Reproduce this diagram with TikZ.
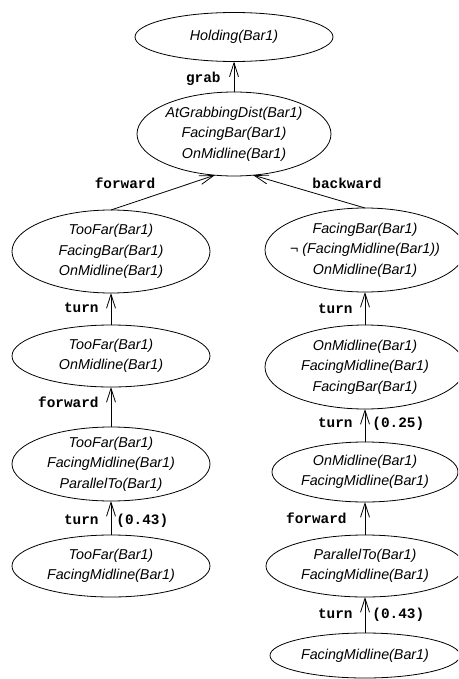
\documentclass[tikz,border=0pt]{standalone}
\usepackage{fontspec}
\setmainfont{Liberation Sans}
\newfontfamily\actfont{Liberation Mono}
\usetikzlibrary{shapes.geometric,arrows.meta}
\tikzset{
  state/.style={ellipse, draw, line width=0.8pt, inner sep=0pt, outer sep=0pt},
  stxt/.style={align=center, inner sep=0pt,
    font=\fontsize{14.3}{20.5}\selectfont\itshape},
  act/.style={inner sep=0pt, text height=8pt, text depth=2pt,
    font=\actfont\bfseries\fontsize{14.4}{16}\selectfont},
  arr/.style={line width=0.8pt, -{Straight Barb[length=14pt,width=9pt]}},
}
\begin{document}
\begin{tikzpicture}[x=1pt,y=-1pt]
\useasboundingbox (0,0) rectangle (458,679);
\clip (0,0) rectangle (458,679);

% goal and the state just before it
\node[state, minimum width=198pt, minimum height=49pt,
  label={[stxt]center:Holding(Bar1)}] (hold) at (234,37) {};
\node[state, minimum width=194pt, minimum height=84pt,
  label={[stxt]center:{AtGrabbingDist(Bar1)\\FacingBar(Bar1)\\OnMidline(Bar1)}}] (grab) at (234,134) {};

% left branch
\node[state, minimum width=198pt, minimum height=83pt,
  label={[stxt]center:{TooFar(Bar1)\\FacingBar(Bar1)\\OnMidline(Bar1)}}] (l1) at (111,251.5) {};
\node[state, minimum width=198pt, minimum height=62pt,
  label={[stxt]center:{TooFar(Bar1)\\OnMidline(Bar1)}}] (l2) at (111,356) {};
\node[state, minimum width=198pt, minimum height=74pt,
  label={[stxt]center:{TooFar(Bar1)\\FacingMidline(Bar1)\\ParallelTo(Bar1)}}] (l3) at (111,464) {};
\node[state, minimum width=198pt, minimum height=62pt,
  label={[stxt]center:{TooFar(Bar1)\\FacingMidline(Bar1)}}] (l4) at (111,566) {};

% right branch
\node[state, minimum width=200pt, minimum height=84pt,
  label={[stxt]center:{FacingBar(Bar1)\\\char"00AC\ (FacingMidline(Bar1))\\OnMidline(Bar1)}}] (r1) at (365,250) {};
\node[state, minimum width=200pt, minimum height=84pt,
  label={[stxt]center:{OnMidline(Bar1)\\FacingMidline(Bar1)\\FacingBar(Bar1)}}] (r2) at (365,367) {};
\node[state, minimum width=186pt, minimum height=60pt,
  label={[stxt]center:{OnMidline(Bar1)\\FacingMidline(Bar1)}}] (r3) at (365,472) {};
\node[state, minimum width=198pt, minimum height=62pt,
  label={[stxt]center:{ParallelTo(Bar1)\\FacingMidline(Bar1)}}] (r4) at (365,566) {};
\node[state, minimum width=190pt, minimum height=45pt,
  label={[stxt]center:FacingMidline(Bar1)}] (r5) at (365,655.5) {};

% actions
\draw[arr] (grab.north) -- node[act, left=13pt, pos=0.4] (agrab) {grab} (hold.south);
\draw[arr] (l1.north) -- (grab.245);
\node[act] (afwd) at (125,185) {forward};
\draw[arr] (r1.north) -- (grab.295);
\node[act] (abwd) at (347,185) {backward};

\draw[arr] (l2.north) -- node[act, left=12pt, pos=0.47] (alt1) {turn} (l1.south);
\draw[arr] (l3.north) -- node[act, left=12pt, pos=0.57] (alf) {forward} (l2.south);
\draw[arr] (l4.north) -- node[act, left=12pt, pos=0.39] (alt2) {turn}
  node[act, right=5pt, pos=0.39] (alp) {(0.43)} (l3.south);

\draw[arr] (r2.north) -- node[act, left=12pt, pos=0.45] (art1) {turn} (r1.south);
\draw[arr] (r3.north) -- node[act, left=12pt, pos=0.53] (art2) {turn}
  node[act, right=7pt, pos=0.53] (arp1) {(0.25)} (r2.south);
\draw[arr] (r4.north) -- node[act, left=18pt, pos=0.45] (arf) {forward} (r3.south);
\draw[arr] (r5.north) -- node[act, left=12pt, pos=0.5] (art3) {turn}
  node[act, right=7pt, pos=0.5] (arp2) {(0.43)} (r4.south);
\end{tikzpicture}
\end{document}
